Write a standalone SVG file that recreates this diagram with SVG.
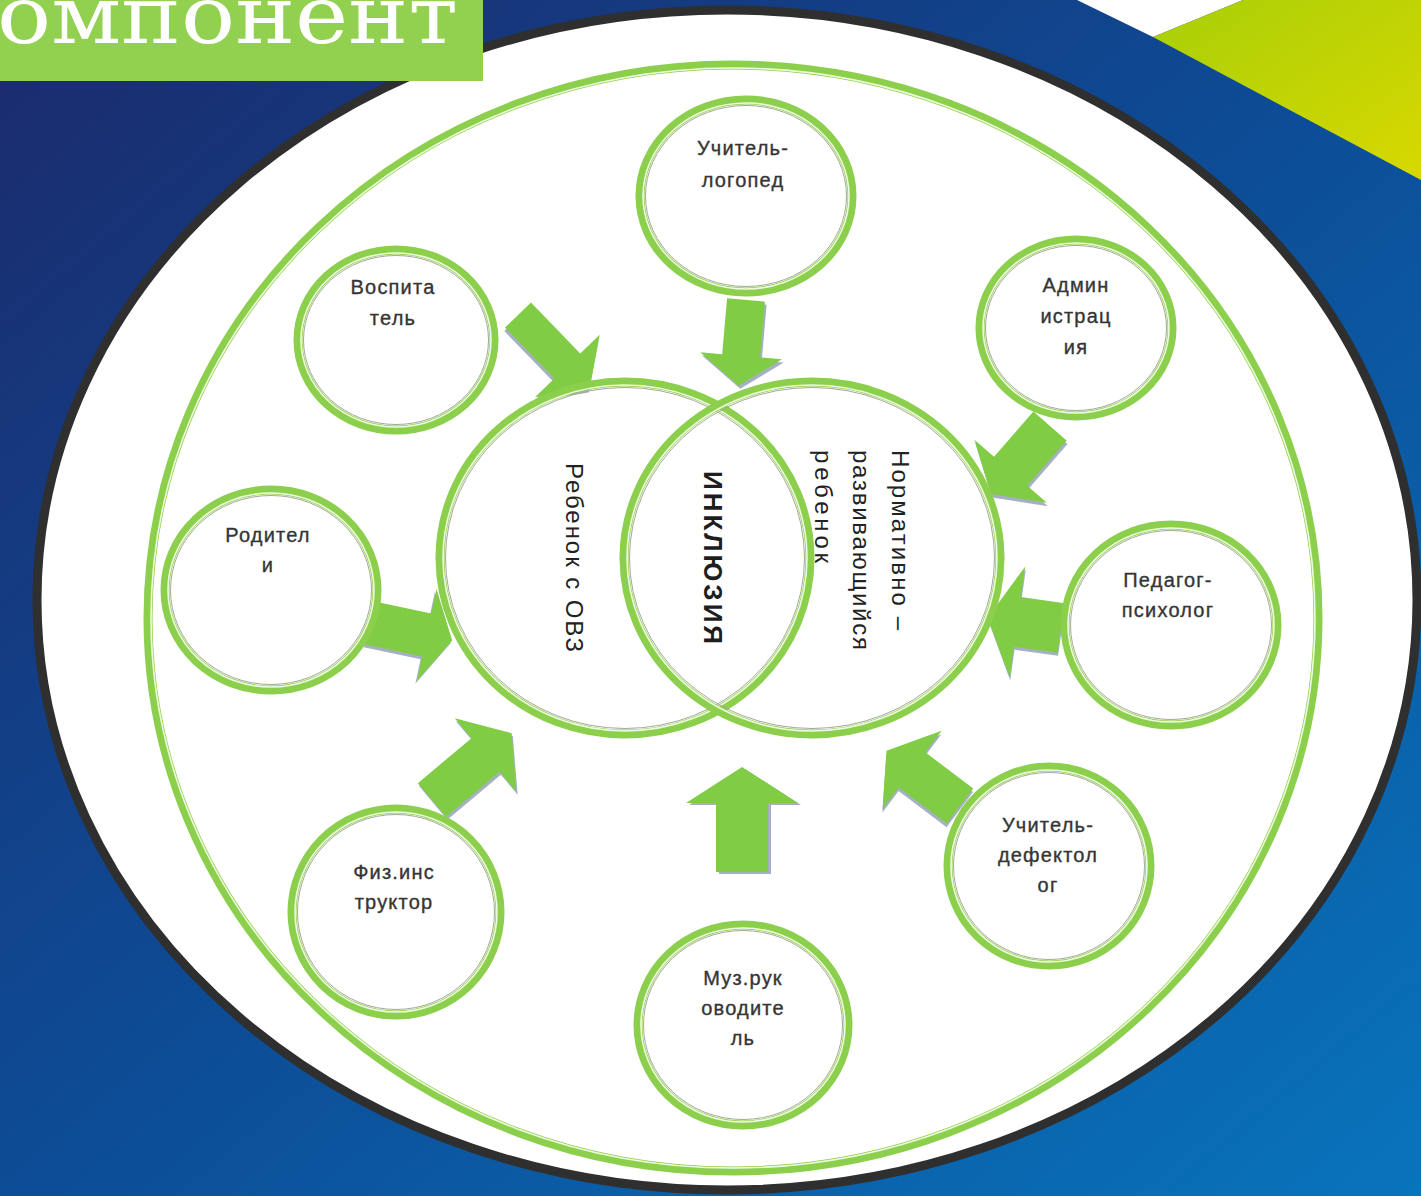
<svg xmlns="http://www.w3.org/2000/svg" width="1421" height="1196" viewBox="0 0 1421 1196">
<style>
.ring{fill:none;stroke:#8ccf4c;stroke-width:9}
.ringIn{fill:none;stroke:#eefbdc;stroke-width:1.6}
.ringGr{fill:none;stroke:#a3a89a;stroke-width:1}
.lbl{font-family:"Liberation Sans","DejaVu Sans",sans-serif;font-size:20px;fill:#353535;text-anchor:middle;letter-spacing:1.2px;stroke:#353535;stroke-width:0.35}
.ctr{font-family:"Liberation Sans","DejaVu Sans",sans-serif;font-size:24px;fill:#222}
.arw{fill:#80cc44}
.shd{fill:#8796ad;opacity:0.75}
</style>
<defs>
<linearGradient id="bg" x1="0" y1="0" x2="1" y2="1">
<stop offset="0" stop-color="#1c2a6c"/>
<stop offset="0.5" stop-color="#0d4c96"/>
<stop offset="1" stop-color="#0874bc"/>
</linearGradient>
<linearGradient id="lime" x1="0" y1="0" x2="1" y2="1">
<stop offset="0" stop-color="#a8cf08"/>
<stop offset="1" stop-color="#d8d800"/>
</linearGradient>
</defs>
<rect width="1421" height="1196" fill="url(#bg)"/>
<polygon points="1077,0 1243,0 1153,37" fill="#ffffff"/>
<polygon points="1153,37 1243,0 1421,0 1421,180" fill="url(#lime)"/>
<ellipse cx="727" cy="600" rx="690" ry="590" fill="#ffffff" stroke="#2f2f2f" stroke-width="9"/>
<g id="title">
<rect x="0" y="0" width="483" height="81" fill="#92d050"/>
<text x="-3" y="43" font-family="'DejaVu Serif','Liberation Serif',serif" font-size="80" fill="#ffffff" textLength="461" lengthAdjust="spacingAndGlyphs">омпонент</text>
</g>
<g id="outer-ring">
<ellipse class="ring" cx="733" cy="618" rx="585" ry="553"/>
<ellipse class="ringIn" cx="733" cy="618" rx="582" ry="550"/>
</g>
<g id="connectors">
<g transform="translate(518,315) rotate(46)"><path class="shd" transform="translate(2,3)" d="M0,-18 L71,-18 L71,-45 L103,0 L71,45 L71,18 L0,18 Z"/><path class="arw" d="M0,-18 L71,-18 L71,-45 L103,0 L71,45 L71,18 L0,18 Z"/></g>
<g transform="translate(746,300) rotate(95)"><path class="shd" transform="translate(3,-2)" d="M0,-19 L56,-19 L56,-41 L86,0 L56,41 L56,19 L0,19 Z"/><path class="arw" d="M0,-19 L56,-19 L56,-41 L86,0 L56,41 L56,19 L0,19 Z"/></g>
<g transform="translate(1050,426) rotate(131)"><path class="shd" transform="translate(2,-3)" d="M0,-22 L60,-22 L60,-48 L90,0 L60,48 L60,22 L0,22 Z"/><path class="arw" d="M0,-22 L60,-22 L60,-48 L90,0 L60,48 L60,22 L0,22 Z"/></g>
<g transform="translate(370,623) rotate(12)"><path class="shd" transform="translate(-1,3)" d="M0,-22 L58,-22 L58,-47 L84,0 L58,47 L58,22 L0,22 Z"/><path class="arw" d="M0,-22 L58,-22 L58,-47 L84,0 L58,47 L58,22 L0,22 Z"/></g>
<g transform="translate(1061,628) rotate(188)"><path class="shd" transform="translate(-1,-3)" d="M0,-25 L44,-25 L44,-56 L74,0 L44,56 L44,25 L0,25 Z"/><path class="arw" d="M0,-25 L44,-25 L44,-56 L74,0 L44,56 L44,25 L0,25 Z"/></g>
<g transform="translate(432,800) rotate(-40)"><path class="shd" transform="translate(-1,3)" d="M0,-22 L70,-22 L70,-48 L104,0 L70,48 L70,22 L0,22 Z"/><path class="arw" d="M0,-22 L70,-22 L70,-48 L104,0 L70,48 L70,22 L0,22 Z"/></g>
<g transform="translate(742,872) rotate(-90)"><path class="shd" transform="translate(-2,3)" d="M0,-26 L69,-26 L69,-56 L105,0 L69,56 L69,26 L0,26 Z"/><path class="arw" d="M0,-26 L69,-26 L69,-56 L105,0 L69,56 L69,26 L0,26 Z"/></g>
<g transform="translate(960,806) rotate(217)"><path class="shd" transform="translate(-2,-3)" d="M0,-22 L60,-22 L60,-49 L92,0 L60,49 L60,22 L0,22 Z"/><path class="arw" d="M0,-22 L60,-22 L60,-49 L92,0 L60,49 L60,22 L0,22 Z"/></g>
</g>
<g id="child-ovz">
<ellipse class="ring" cx="625" cy="558" rx="185" ry="176"/>
<ellipse class="ringIn" cx="625" cy="558" rx="182" ry="173"/>
<ellipse class="ringGr" cx="625" cy="558" rx="179.5" ry="170.5"/>
<text class="ctr" transform="translate(566,463) rotate(90)" textLength="189" lengthAdjust="spacing">Ребенок с ОВЗ</text>
</g>
<g id="normal-child">
<ellipse class="ring" cx="812" cy="558" rx="188" ry="176"/>
<ellipse class="ringIn" cx="812" cy="558" rx="185" ry="173"/>
<ellipse class="ringGr" cx="812" cy="558" rx="182.5" ry="170.5"/>
<text class="ctr" transform="translate(892,450) rotate(90)"><tspan x="0" y="0" textLength="180" lengthAdjust="spacing">Нормативно –</tspan><tspan x="0" dy="39" textLength="200" lengthAdjust="spacing">развивающийся</tspan><tspan x="0" dy="38" textLength="113" lengthAdjust="spacing">ребенок</tspan></text>
</g>
<g id="inclusion">
<text transform="translate(704,471) rotate(90)" font-family="'Liberation Sans','DejaVu Sans',sans-serif" font-size="26" font-weight="bold" fill="#1e1e1e" textLength="173" lengthAdjust="spacing">ИНКЛЮЗИЯ</text>
</g>
<g id="logoped">
<ellipse class="ring" cx="746" cy="196" rx="106" ry="96"/>
<ellipse class="ringIn" cx="746" cy="196" rx="103" ry="93"/>
<ellipse class="ringGr" cx="746" cy="196" rx="100.5" ry="90.5"/>
<text class="lbl" x="743" y="155">Учитель-</text><text class="lbl" x="743" y="187">логопед</text>
</g>
<g id="vospitatel">
<ellipse class="ring" cx="396" cy="340" rx="98" ry="90"/>
<ellipse class="ringIn" cx="396" cy="340" rx="95" ry="87"/>
<ellipse class="ringGr" cx="396" cy="340" rx="92.5" ry="84.5"/>
<text class="lbl" x="393" y="294">Воспита</text><text class="lbl" x="393" y="325">тель</text>
</g>
<g id="administration">
<ellipse class="ring" cx="1076" cy="328" rx="96" ry="88"/>
<ellipse class="ringIn" cx="1076" cy="328" rx="93" ry="85"/>
<ellipse class="ringGr" cx="1076" cy="328" rx="90.5" ry="82.5"/>
<text class="lbl" x="1076" y="292">Админ</text><text class="lbl" x="1076" y="323">истрац</text><text class="lbl" x="1076" y="354">ия</text>
</g>
<g id="roditeli">
<ellipse class="ring" cx="271" cy="590" rx="106" ry="100"/>
<ellipse class="ringIn" cx="271" cy="590" rx="103" ry="97"/>
<ellipse class="ringGr" cx="271" cy="590" rx="100.5" ry="94.5"/>
<text class="lbl" x="268" y="542">Родител</text><text class="lbl" x="268" y="572">и</text>
</g>
<g id="psycholog">
<ellipse class="ring" cx="1171" cy="625" rx="106" ry="100"/>
<ellipse class="ringIn" cx="1171" cy="625" rx="103" ry="97"/>
<ellipse class="ringGr" cx="1171" cy="625" rx="100.5" ry="94.5"/>
<text class="lbl" x="1168" y="587">Педагог-</text><text class="lbl" x="1168" y="617">психолог</text>
</g>
<g id="fiz">
<ellipse class="ring" cx="396" cy="912" rx="104" ry="103"/>
<ellipse class="ringIn" cx="396" cy="912" rx="101" ry="100"/>
<ellipse class="ringGr" cx="396" cy="912" rx="98.5" ry="97.5"/>
<text class="lbl" x="394" y="879">Физ.инс</text><text class="lbl" x="394" y="909">труктор</text>
</g>
<g id="defektolog">
<ellipse class="ring" cx="1049" cy="866" rx="101" ry="99"/>
<ellipse class="ringIn" cx="1049" cy="866" rx="98" ry="96"/>
<ellipse class="ringGr" cx="1049" cy="866" rx="95.5" ry="93.5"/>
<text class="lbl" x="1048" y="832">Учитель-</text><text class="lbl" x="1048" y="862">дефектол</text><text class="lbl" x="1048" y="892">ог</text>
</g>
<g id="muz">
<ellipse class="ring" cx="743" cy="1025" rx="105" ry="100"/>
<ellipse class="ringIn" cx="743" cy="1025" rx="102" ry="97"/>
<ellipse class="ringGr" cx="743" cy="1025" rx="99.5" ry="94.5"/>
<text class="lbl" x="743" y="985">Муз.рук</text><text class="lbl" x="743" y="1015">оводите</text><text class="lbl" x="743" y="1045">ль</text>
</g>
</svg>
